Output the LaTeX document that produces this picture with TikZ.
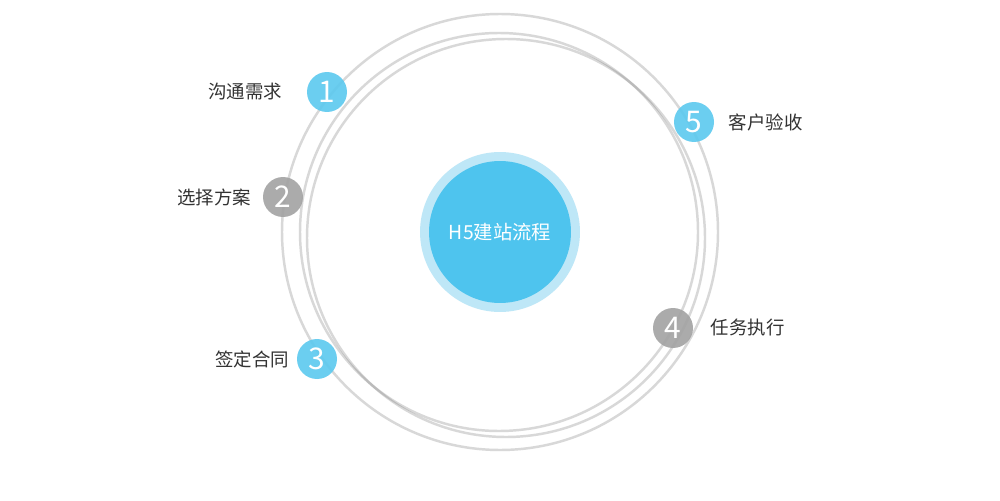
\documentclass[tikz,border=0pt]{standalone}
\usepackage{fontspec}
\setmainfont{Noto Sans CJK SC}
\usepackage{xcolor}
\usetikzlibrary{positioning}

\definecolor{hubblue}{HTML}{4EC4EE}
\definecolor{halo}{HTML}{BEE7F7}
\definecolor{stepblue}{HTML}{5BC9EF}
\definecolor{stepgray}{HTML}{A2A2A2}
\definecolor{ringgray}{HTML}{707070}
\definecolor{tagtext}{HTML}{333333}

\begin{document}
\begin{tikzpicture}[x=0.02cm, y=-0.02cm,
        ring/.style={draw=ringgray, line width=1.4pt, draw opacity=0.27},
        num/.style={circle, minimum size=0.8cm, inner sep=0pt, text=white, fill opacity=0.9, text opacity=1, font=\fontsize{17}{17}\selectfont},
        numblue/.style={num, fill=stepblue},
        numgray/.style={num, fill=stepgray},
        tag/.style={inner sep=0pt, text=tagtext, font=\fontsize{10.5}{12}\selectfont}]

        \fill [white] (0,0) rectangle (1000,500);

        % rings
        \draw [ring] (500,232) circle (218);
        \draw [ring] (499,232) circle (199);
        \draw [ring] (506,238) circle (199);

        % hub
        \node [circle, fill=halo, minimum size=3.2cm, inner sep=0pt] (halo) at (500,232) {};
        \node [circle, fill=hubblue, minimum size=2.84cm, inner sep=0pt, text=white, font=\fontsize{11}{13}\selectfont] (hub) at (500,232) {H5建站流程};

        % steps
        \node [numblue] (s1) at (327,92) {1};
        \node [numgray] (s2) at (283,197) {2};
        \node [numblue] (s3) at (317,359) {3};
        \node [numgray] (s4) at (673,328) {4};
        \node [numblue] (s5) at (694,122) {5};

        \node [tag, left=0.48cm of s1] (t1) {沟通需求};
        \node [tag, left=0.22cm of s2] (t2) {选择方案};
        \node [tag, left=0.14cm of s3] (t3) {签定合同};
        \node [tag, right=0.34cm of s4] (t4) {任务执行};
        \node [tag, right=0.28cm of s5] (t5) {客户验收};

    \end{tikzpicture}
\end{document}
